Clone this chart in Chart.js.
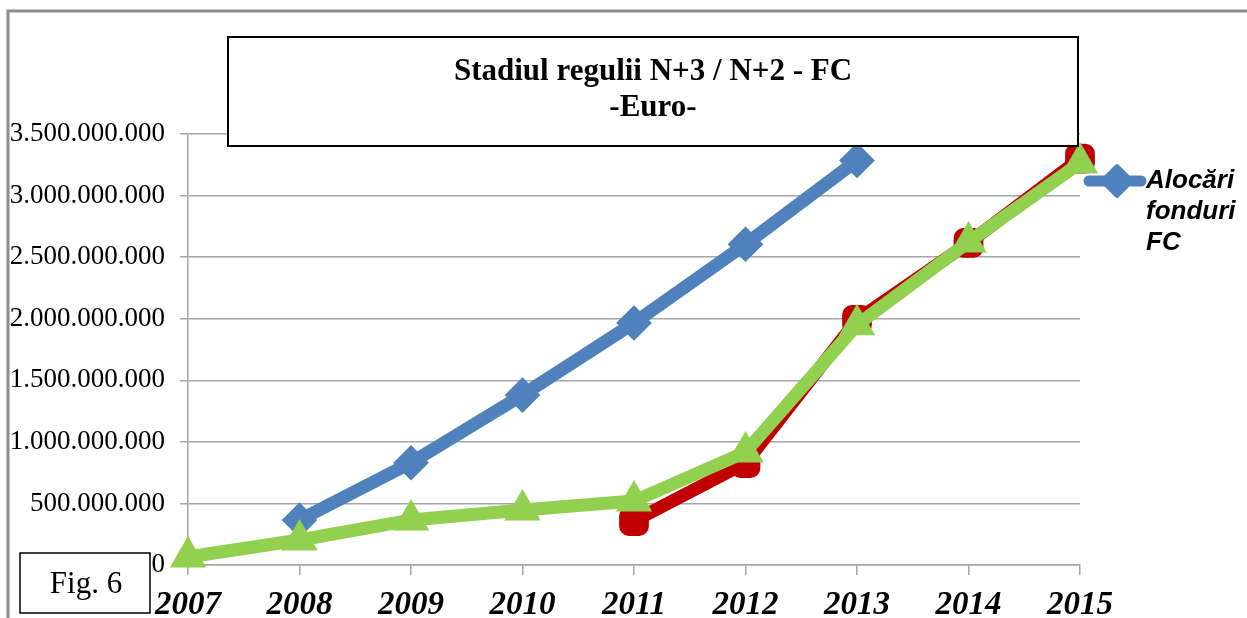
<!DOCTYPE html>
<html>
<head>
<meta charset="utf-8">
<script src="https://cdn.jsdelivr.net/npm/chart.js@4.4.1/dist/chart.umd.min.js"></script>
<style>
  html, body { margin: 0; padding: 0; background: #fff; }
  canvas { display: block; }
</style>
</head>
<body>
<canvas id="fcChart" width="1247" height="618"></canvas>
<script>
// data
const years = ['2007', '2008', '2009', '2010', '2011', '2012', '2013', '2014', '2015'];
const alocari = [null, 365000000, 830000000, 1380000000, 1965000000, 2605000000, 3285000000, null, null];
const seriesRed = [null, null, null, null, 357000000, 828000000, 1990000000, 2615000000, 3300000000];
const seriesGreen = [65000000, 203000000, 365000000, 446000000, 519000000, 917000000, 1950000000, 2622000000, 3265000000];
const yTicks = [0, 500000000, 1000000000, 1500000000, 2000000000, 2500000000, 3000000000, 3500000000];

const titleLines = ['Stadiul regulii N+3 / N+2 - FC', '-Euro-'];
const legendLines = ['Alocări', 'fonduri', 'FC'];

const BLUE = '#4f81bd', RED = '#c00000', GREEN = '#92d050', GRID = '#a6a6a6';

function fmt(v) {
    return String(v).replace(/\B(?=(\d{3})+(?!\d))/g, '.');
}

// boxes, frame and legend drawn on top of the chart
const decor = {
    id: 'decor',
    beforeDraw(chart) {
        const c = chart.ctx;
        c.save();
        c.fillStyle = '#fff';
        c.fillRect(0, 0, chart.width, chart.height);
        c.strokeStyle = '#8c8c8c';
        c.lineWidth = 3;
        c.beginPath();
        c.moveTo(8, chart.height);
        c.lineTo(8, 11);
        c.lineTo(chart.width, 11);
        c.stroke();
        c.restore();
    },
    afterDraw(chart) {
        const c = chart.ctx;
        c.save();
        // title box
        c.fillStyle = '#fff';
        c.fillRect(228, 37, 850, 109);
        c.strokeStyle = '#000';
        c.lineWidth = 2;
        c.strokeRect(228, 37, 850, 109);
        c.fillStyle = '#000';
        c.font = 'bold 31px "Liberation Serif", "Times New Roman", serif';
        c.textAlign = 'center';
        c.textBaseline = 'middle';
        c.fillText(titleLines[0], 653, 72);
        c.fillText(titleLines[1], 653, 108);

        // Fig. 6 box
        c.fillStyle = '#fff';
        c.fillRect(20, 553, 130, 60);
        c.lineWidth = 1.5;
        c.strokeRect(20, 553, 130, 60);
        c.fillStyle = '#000';
        c.font = '31px "Liberation Serif", "Times New Roman", serif';
        c.fillText('Fig. 6', 86, 585);

        // legend (only first series shown)
        c.strokeStyle = BLUE;
        c.lineWidth = 11;
        c.lineCap = 'round';
        c.beginPath();
        c.moveTo(1089, 181);
        c.lineTo(1141, 181);
        c.stroke();
        c.fillStyle = BLUE;
        c.lineJoin = 'round';
        c.lineWidth = 4;
        c.beginPath();
        c.moveTo(1117, 166);
        c.lineTo(1132, 181);
        c.lineTo(1117, 196);
        c.lineTo(1102, 181);
        c.closePath();
        c.fill();
        c.stroke();
        c.fillStyle = '#000';
        c.textAlign = 'left';
        c.font = 'italic bold 26px "Liberation Sans", Arial, sans-serif';
        legendLines.forEach((t, i) => c.fillText(t, 1146, 181 + i * 31));
        c.restore();
    }
};

const ctx = document.getElementById('fcChart');

const lineDefaults = {
    borderWidth: 13,
    pointBorderWidth: 4,
    borderJoinStyle: 'round',
    spanGaps: false,
    clip: false
};

new Chart(ctx, {
    type: 'line',
    data: {
        labels: years,
        datasets: [
            Object.assign({
                label: 'Alocări fonduri FC',
                data: alocari,
                borderColor: BLUE,
                backgroundColor: BLUE,
                pointStyle: 'rectRot',
                pointRadius: 15,
                order: 2
            }, lineDefaults),
            Object.assign({
                label: 'Serie 2',
                data: seriesRed,
                borderColor: RED,
                backgroundColor: RED,
                pointStyle: 'rectRounded',
                pointRadius: 15,
                order: 1
            }, lineDefaults),
            Object.assign({
                label: 'Serie 3',
                data: seriesGreen,
                borderColor: GREEN,
                backgroundColor: GREEN,
                pointStyle: 'triangle',
                pointRadius: 17,
                order: 0
            }, lineDefaults)
        ]
    },
    options: {
        responsive: false,
        animation: false,
        layout: { padding: { top: 134, right: 167, left: 0, bottom: 0 } },
        plugins: {
            legend: { display: false },
            tooltip: { enabled: false },
            title: { display: false }
        },
        scales: {
            x: {
                offset: false,
                grid: {
                    drawOnChartArea: false,
                    drawTicks: true,
                    tickLength: 10,
                    color: GRID,
                    lineWidth: 1.5
                },
                border: { display: true, color: GRID, width: 1.5 },
                ticks: {
                    color: '#000',
                    padding: 11,
                    maxRotation: 0,
                    font: { family: '"Liberation Serif", "Times New Roman", serif', size: 33, style: 'italic', weight: 'bold' }
                },
                afterFit(scale) { scale.height = 53; }
            },
            y: {
                min: 0,
                max: 3500000000,
                afterBuildTicks(scale) { scale.ticks = yTicks.map(v => ({ value: v })); },
                grid: {
                    color: GRID,
                    lineWidth: 1.5,
                    tickLength: 8
                },
                border: { display: true, color: GRID, width: 1.5 },
                ticks: {
                    color: '#000',
                    padding: 15,
                    callback: v => fmt(v),
                    font: { family: '"Liberation Serif", "Times New Roman", serif', size: 27 }
                },
                afterFit(scale) { scale.width = 188; }
            }
        }
    },
    plugins: [decor]
});
</script>
</body>
</html>
